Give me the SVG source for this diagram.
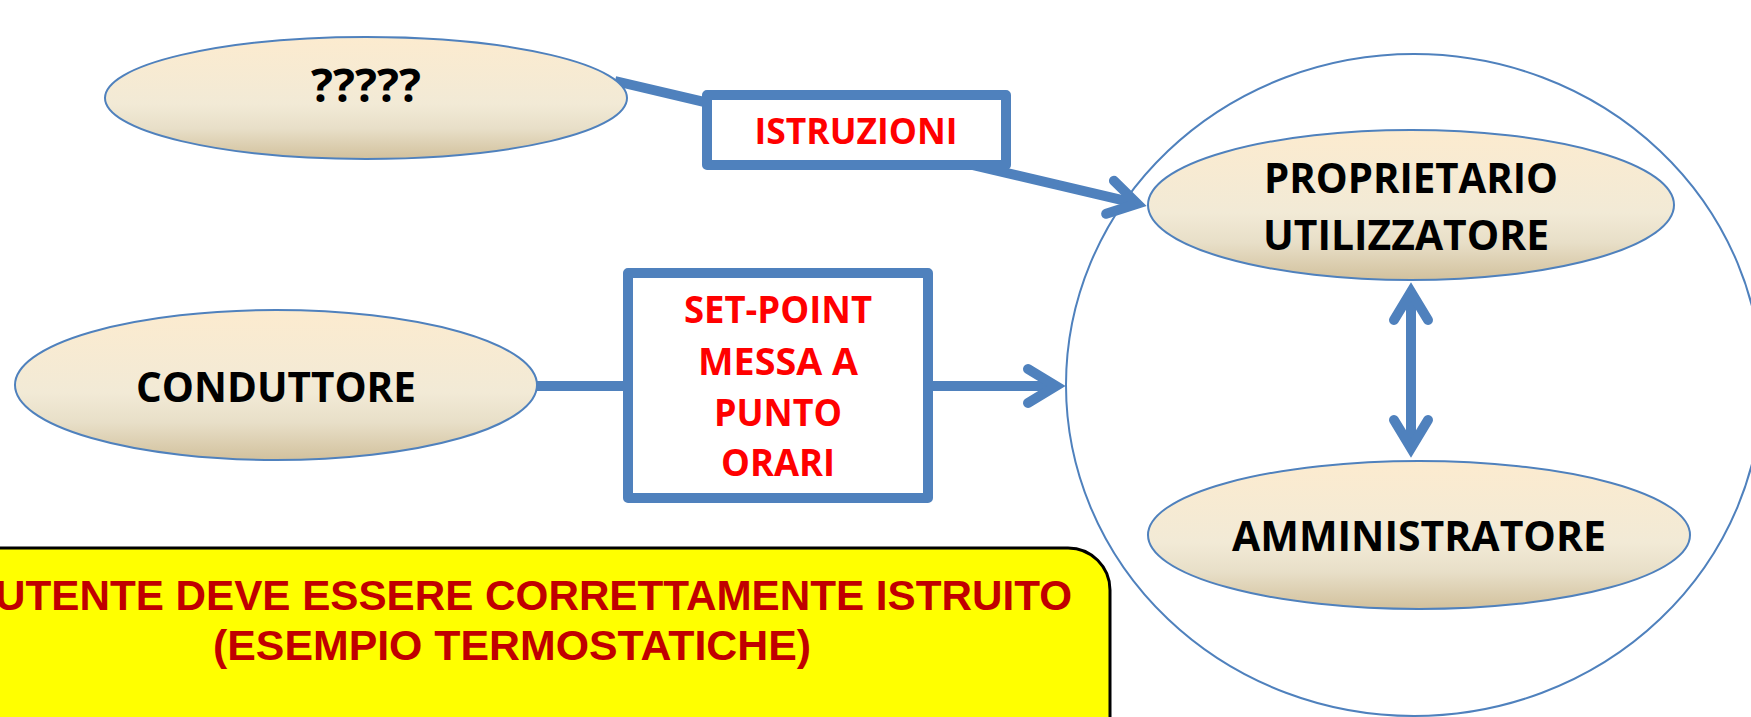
<svg xmlns="http://www.w3.org/2000/svg" width="1751" height="717" viewBox="0 0 1751 717">
<defs>
<linearGradient id="cream" x1="0" y1="0" x2="0" y2="1">
<stop offset="0" stop-color="#FCEBCF"/>
<stop offset="0.55" stop-color="#F2EAD6"/>
<stop offset="0.75" stop-color="#E8DFC8"/>
<stop offset="1" stop-color="#D2C19D"/>
</linearGradient>
<marker id="arr" markerUnits="userSpaceOnUse" markerWidth="60" markerHeight="60" refX="30" refY="0" orient="auto-start-reverse" overflow="visible">
<path d="M 2 -17 L 30 0 L 2 17" fill="none" stroke="#4F81BD" stroke-width="10" stroke-linecap="round" stroke-linejoin="miter"/>
</marker>
<style>
.node { fill: url(#cream); stroke: #4F81BD; stroke-width: 2; }
.lbl { font-family: "Open Sans", "Liberation Sans", sans-serif; font-weight: 700; fill: #000; text-anchor: middle; }
.red { font-family: "Open Sans", "Liberation Sans", sans-serif; font-weight: 700; fill: #FF0000; text-anchor: middle; }
.box { fill: #FFFFFF; stroke: #4F81BD; stroke-width: 10; stroke-linejoin: round; }
.conn { fill: none; stroke: #4F81BD; stroke-width: 10; }
.note { font-family: "Liberation Sans", Arial, sans-serif; font-weight: 700; fill: #C00000; }
</style>
</defs>
<rect width="1751" height="717" fill="#FFFFFF"/>
<g id="group-circle">
<ellipse cx="1414" cy="385" rx="348" ry="331" fill="none" stroke="#4F81BD" stroke-width="2"/>
</g>
<g id="connectors">
<path class="conn" d="M 615 81 L 1137.3 203.7" marker-end="url(#arr)"/>
<path class="conn" d="M 530 386 L 1056 386" marker-end="url(#arr)"/>
<path class="conn" d="M 1411 292 L 1411 448" stroke-width="9" marker-start="url(#arr)" marker-end="url(#arr)"/>
</g>
<g id="node-unknown">
<ellipse class="node" cx="366" cy="98" rx="261" ry="61"/>
<text class="lbl" x="366" y="102" font-size="46" textLength="110" lengthAdjust="spacingAndGlyphs">?????</text>
</g>
<g id="node-istruzioni">
<rect class="box" x="707" y="95" width="299" height="70"/>
<text class="red" x="856" y="144" font-size="36" textLength="203" lengthAdjust="spacingAndGlyphs">ISTRUZIONI</text>
</g>
<g id="node-conduttore">
<ellipse class="node" cx="276" cy="385" rx="261" ry="75"/>
<text class="lbl" x="276" y="402" font-size="42" textLength="280" lengthAdjust="spacingAndGlyphs">CONDUTTORE</text>
</g>
<g id="node-setpoint">
<rect class="box" x="628" y="273" width="300" height="225"/>
<text class="red" x="778" y="323" font-size="37" textLength="188" lengthAdjust="spacingAndGlyphs">SET-POINT</text>
<text class="red" x="778" y="375" font-size="37" textLength="160" lengthAdjust="spacingAndGlyphs">MESSA A</text>
<text class="red" x="778" y="426" font-size="37" textLength="128" lengthAdjust="spacingAndGlyphs">PUNTO</text>
<text class="red" x="778" y="476" font-size="37" textLength="114" lengthAdjust="spacingAndGlyphs">ORARI</text>
</g>
<g id="node-proprietario">
<ellipse class="node" cx="1411" cy="205" rx="263" ry="75"/>
<text class="lbl" x="1411" y="193" font-size="42" textLength="294" lengthAdjust="spacingAndGlyphs">PROPRIETARIO</text>
<text class="lbl" x="1406" y="250" font-size="42" textLength="286" lengthAdjust="spacingAndGlyphs">UTILIZZATORE</text>
</g>
<g id="node-amministratore">
<ellipse class="node" cx="1419" cy="535" rx="271" ry="74"/>
<text class="lbl" x="1419" y="551" font-size="42" textLength="374" lengthAdjust="spacingAndGlyphs">AMMINISTRATORE</text>
</g>
<g id="node-note">
<path d="M -10 548 H 1068 A 42 42 0 0 1 1110 590 V 730 H -10 Z" fill="#FFFF00" stroke="#000000" stroke-width="3"/>
<text class="note" x="-5" y="610" font-size="43" textLength="1077" lengthAdjust="spacingAndGlyphs">UTENTE DEVE ESSERE CORRETTAMENTE ISTRUITO</text>
<text class="note" x="512" y="660" font-size="43" text-anchor="middle" textLength="598" lengthAdjust="spacingAndGlyphs">(ESEMPIO TERMOSTATICHE)</text>
</g>
</svg>
